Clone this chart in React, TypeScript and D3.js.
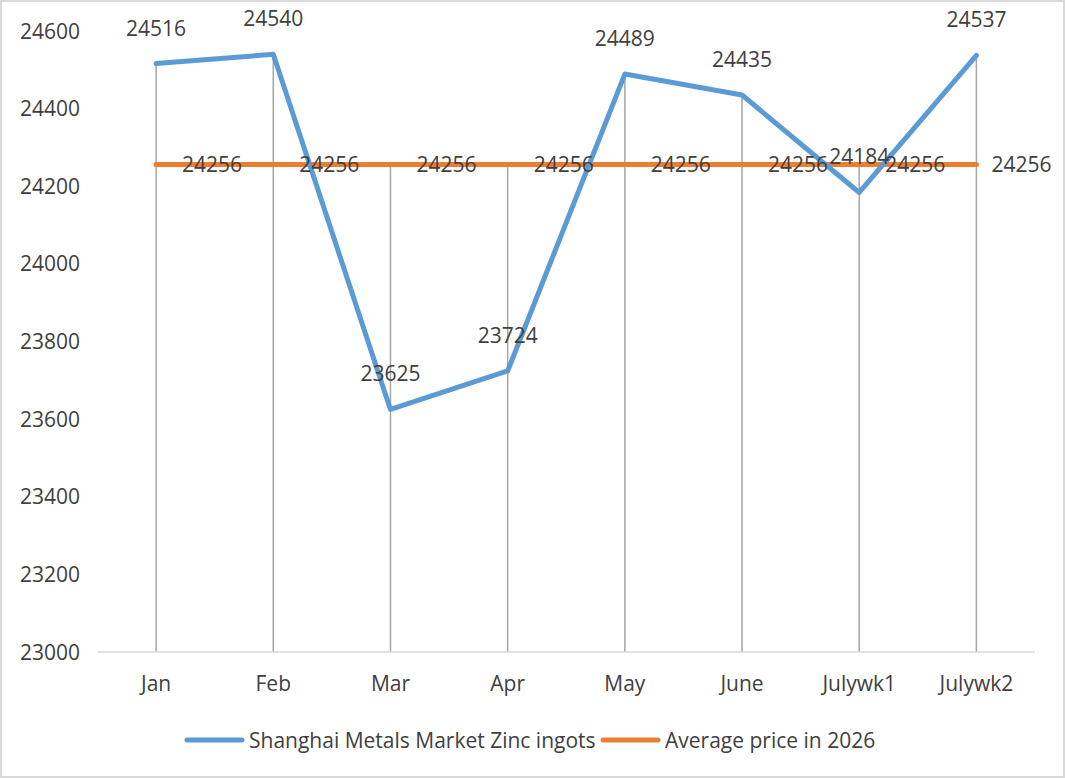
import React, { useEffect, useRef } from 'react';
import * as d3 from 'd3';

const categories = ['Jan', 'Feb', 'Mar', 'Apr', 'May', 'June', 'Julywk1', 'Julywk2'];
const zincPrices = [24516, 24540, 23625, 23724, 24489, 24435, 24184, 24537];
const averagePrices = [24256, 24256, 24256, 24256, 24256, 24256, 24256, 24256];
const yTicks = [23000, 23200, 23400, 23600, 23800, 24000, 24200, 24400, 24600];
const seriesNames = ['Shanghai Metals Market Zinc ingots', 'Average price in 2026'];

const W = 1065;
const H = 778;
const BLUE = '#5b9bd5';
const ORANGE = '#ed7d31';
const TEXT = '#404040';
const FONT = '"Open Sans", sans-serif';
const FS = 21;

const App: React.FC = () => {
  const svgRef = useRef<SVGSVGElement>(null);

  useEffect(() => {
    document.body.style.margin = '0';
    if (!svgRef.current) return;
    const svg = d3.select(svgRef.current);
    svg.selectAll('*').remove();

    const plot = { left: 97.5, right: 1035, top: 31, bottom: 652 };

    const x = d3.scaleBand<string>()
      .domain(categories)
      .range([plot.left, plot.right]);
    const cx = (c: string) => (x(c) as number) + x.bandwidth() / 2;

    const y = d3.scaleLinear()
      .domain([23000, 24600])
      .range([plot.bottom, plot.top]);

    // chart border
    svg.append('rect')
      .attr('x', 1).attr('y', 1)
      .attr('width', W - 2).attr('height', H - 2)
      .attr('fill', '#ffffff')
      .attr('stroke', '#d9d9d9')
      .attr('stroke-width', 2);

    // y tick labels
    svg.append('g')
      .selectAll('text')
      .data(yTicks)
      .join('text')
      .attr('x', 80)
      .attr('y', d => y(d))
      .attr('dy', '0.36em')
      .attr('text-anchor', 'end')
      .attr('font-family', FONT)
      .attr('font-size', FS)
      .attr('fill', TEXT)
      .text(d => d);

    // drop lines
    svg.append('g')
      .selectAll('line')
      .data(categories)
      .join('line')
      .attr('x1', d => cx(d))
      .attr('x2', d => cx(d))
      .attr('y1', (d, i) => y(Math.max(zincPrices[i], averagePrices[i])))
      .attr('y2', plot.bottom)
      .attr('stroke', '#a5a5a5')
      .attr('stroke-width', 1.5);

    // x axis line
    svg.append('line')
      .attr('x1', plot.left).attr('x2', plot.right)
      .attr('y1', plot.bottom).attr('y2', plot.bottom)
      .attr('stroke', '#d9d9d9')
      .attr('stroke-width', 1.5);

    // category labels
    svg.append('g')
      .selectAll('text')
      .data(categories)
      .join('text')
      .attr('x', d => cx(d))
      .attr('y', 691)
      .attr('text-anchor', 'middle')
      .attr('font-family', FONT)
      .attr('font-size', FS)
      .attr('fill', TEXT)
      .text(d => d);

    const line = d3.line<number>()
      .x((_, i) => cx(categories[i]))
      .y(d => y(d));

    svg.append('path')
      .datum(averagePrices)
      .attr('fill', 'none')
      .attr('stroke', ORANGE)
      .attr('stroke-width', 5)
      .attr('stroke-linecap', 'round')
      .attr('d', line);

    svg.append('path')
      .datum(zincPrices)
      .attr('fill', 'none')
      .attr('stroke', BLUE)
      .attr('stroke-width', 5)
      .attr('stroke-linejoin', 'round')
      .attr('stroke-linecap', 'round')
      .attr('d', line);

    // average labels, right of points (last one pulled in by the chart edge)
    svg.append('g')
      .selectAll('text')
      .data(averagePrices)
      .join('text')
      .attr('x', (d, i) => cx(categories[i]) + (i === categories.length - 1 ? 15 : 26))
      .attr('y', d => y(d))
      .attr('dy', '0.36em')
      .attr('font-family', FONT)
      .attr('font-size', FS)
      .attr('fill', TEXT)
      .text(d => d);

    // zinc labels, above points
    svg.append('g')
      .selectAll('text')
      .data(zincPrices)
      .join('text')
      .attr('x', (d, i) => cx(categories[i]))
      .attr('y', d => y(d) - 28)
      .attr('text-anchor', 'middle')
      .attr('font-family', FONT)
      .attr('font-size', FS)
      .attr('fill', TEXT)
      .text(d => d);

    // legend
    const legend = svg.append('g').attr('transform', 'translate(0,740)');
    const items = [
      { name: seriesNames[0], color: BLUE, x0: 187 },
      { name: seriesNames[1], color: ORANGE, x0: 603 },
    ];
    items.forEach(it => {
      legend.append('line')
        .attr('x1', it.x0).attr('x2', it.x0 + 55)
        .attr('y1', 0).attr('y2', 0)
        .attr('stroke', it.color)
        .attr('stroke-width', 5)
        .attr('stroke-linecap', 'round');
      legend.append('text')
        .attr('x', it.x0 + 62)
        .attr('y', 0)
        .attr('dy', '0.36em')
        .attr('font-family', FONT)
        .attr('font-size', FS)
        .attr('fill', TEXT)
        .text(it.name);
    });
  }, []);

  return <svg ref={svgRef} width={W} height={H} style={{ display: 'block' }} />;
};

export default App;
